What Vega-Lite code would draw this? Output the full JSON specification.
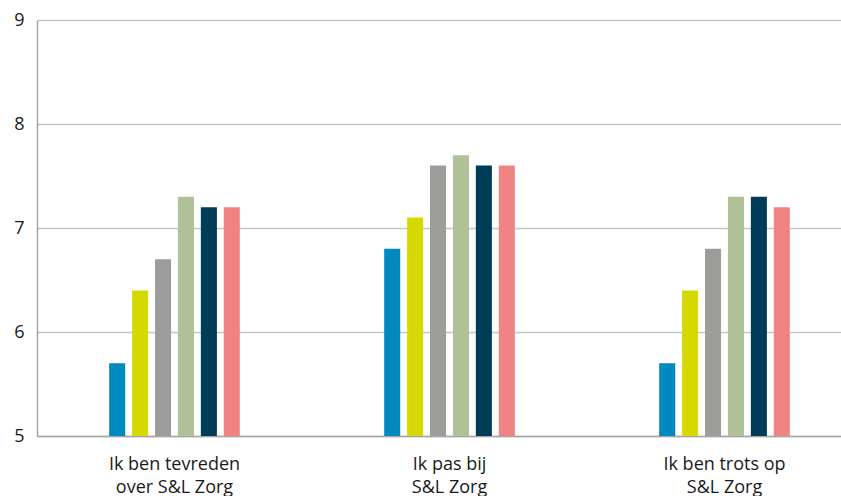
{
  "$schema": "https://vega.github.io/schema/vega-lite/v6.json",
  "width": 825,
  "height": 416,
  "autosize": {"type": "none"},
  "padding": {"left": 37, "top": 20, "right": 0, "bottom": 60},
  "background": "white",
  "data": {
    "values": [
      {"stelling": "Ik ben tevreden over S&L Zorg", "groep": "1", "score": 5.7},
      {"stelling": "Ik ben tevreden over S&L Zorg", "groep": "2", "score": 6.4},
      {"stelling": "Ik ben tevreden over S&L Zorg", "groep": "3", "score": 6.7},
      {"stelling": "Ik ben tevreden over S&L Zorg", "groep": "4", "score": 7.3},
      {"stelling": "Ik ben tevreden over S&L Zorg", "groep": "5", "score": 7.2},
      {"stelling": "Ik ben tevreden over S&L Zorg", "groep": "6", "score": 7.2},
      {"stelling": "Ik pas bij S&L Zorg", "groep": "1", "score": 6.8},
      {"stelling": "Ik pas bij S&L Zorg", "groep": "2", "score": 7.1},
      {"stelling": "Ik pas bij S&L Zorg", "groep": "3", "score": 7.6},
      {"stelling": "Ik pas bij S&L Zorg", "groep": "4", "score": 7.7},
      {"stelling": "Ik pas bij S&L Zorg", "groep": "5", "score": 7.6},
      {"stelling": "Ik pas bij S&L Zorg", "groep": "6", "score": 7.6},
      {"stelling": "Ik ben trots op S&L Zorg", "groep": "1", "score": 5.7},
      {"stelling": "Ik ben trots op S&L Zorg", "groep": "2", "score": 6.4},
      {"stelling": "Ik ben trots op S&L Zorg", "groep": "3", "score": 6.8},
      {"stelling": "Ik ben trots op S&L Zorg", "groep": "4", "score": 7.3},
      {"stelling": "Ik ben trots op S&L Zorg", "groep": "5", "score": 7.3},
      {"stelling": "Ik ben trots op S&L Zorg", "groep": "6", "score": 7.2}
    ]
  },
  "config": {
    "view": {"stroke": null},
    "font": "Open Sans",
    "axis": {"labelFont": "Open Sans", "labelColor": "#1a1a1a", "labelFontSize": 18}
  },
  "mark": {"type": "bar", "clip": true},
  "encoding": {
    "x": {
      "field": "stelling",
      "type": "nominal",
      "sort": ["Ik ben tevreden over S&L Zorg", "Ik pas bij S&L Zorg", "Ik ben trots op S&L Zorg"],
      "scale": {"paddingInner": 0.5, "paddingOuter": 0.25},
      "axis": {
        "title": null,
        "labelAngle": 0,
        "ticks": false,
        "domain": true,
        "domainColor": "#a6a6a6",
        "domainWidth": 1.5,
        "labelPadding": 19,
        "labelBaseline": "top",
        "labelLineHeight": 23,
        "labelExpr": "datum.label == 'Ik ben tevreden over S&L Zorg' ? ['Ik ben tevreden', 'over S&L Zorg'] : datum.label == 'Ik pas bij S&L Zorg' ? ['Ik pas bij', 'S&L Zorg'] : ['Ik ben trots op', 'S&L Zorg']"
      }
    },
    "xOffset": {
      "field": "groep",
      "type": "nominal",
      "scale": {"paddingInner": 0.3, "paddingOuter": 0.15}
    },
    "y": {
      "field": "score",
      "type": "quantitative",
      "scale": {"domain": [5, 9], "nice": false, "zero": false},
      "axis": {
        "title": null,
        "values": [5, 6, 7, 8, 9],
        "ticks": false,
        "domain": true,
        "domainColor": "#a6a6a6",
        "domainWidth": 1.5,
        "grid": true,
        "gridColor": "#c6c6c6",
        "gridWidth": 1.3,
        "labelPadding": 13
      }
    },
    "color": {
      "field": "groep",
      "type": "nominal",
      "legend": null,
      "scale": {
        "domain": ["1", "2", "3", "4", "5", "6"],
        "range": ["#0089bf", "#d6d900", "#9d9d9b", "#b0c197", "#003b57", "#f08483"]
      }
    }
  }
}
